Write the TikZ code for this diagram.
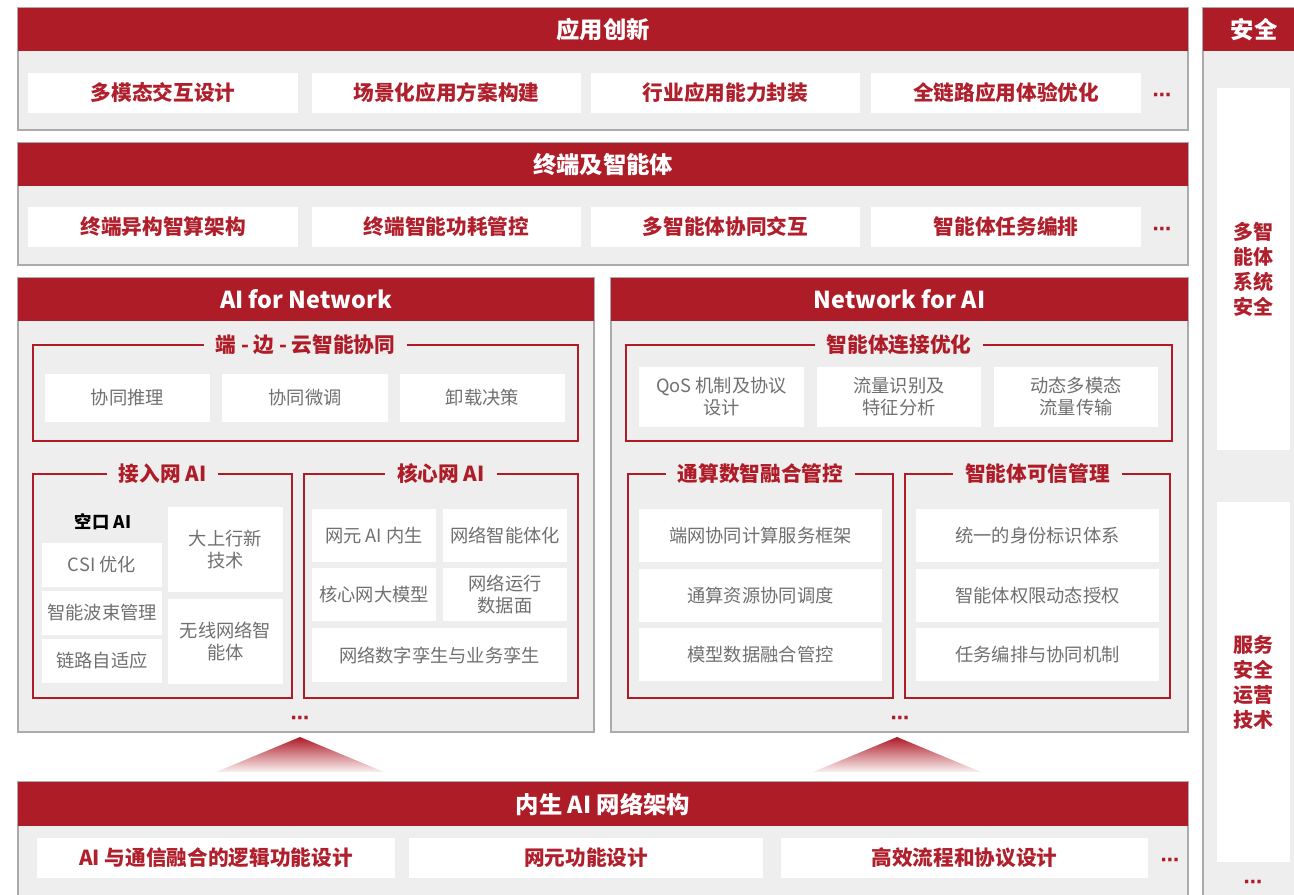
\documentclass[tikz,border=0pt]{standalone}
\usepackage{fontspec}
\setmainfont{Noto Sans CJK SC}
\newfontfamily\symfont{DejaVu Sans}
\definecolor{cred}{HTML}{AE1C28}
\definecolor{cbody}{HTML}{EEEEEE}
\definecolor{cborder}{HTML}{ABABAB}
\definecolor{ctext}{HTML}{707070}
\definecolor{citem}{HTML}{B0202C}
\tikzset{
  body/.style={draw=cborder, fill=cbody, line width=0.8pt},
  head/.style={fill=cred, text=white, font=\bfseries\fontsize{17.5}{21}\selectfont},
  itemR/.style={fill=white, text=citem, font=\bfseries\fontsize{15.5}{18}\selectfont},
  itemG/.style={fill=white, text=ctext, font=\fontsize{13.7}{16.5}\selectfont, align=center},
  grp/.style={draw=cred, line width=1pt},
  grptitle/.style={fill=cbody, text=cred, font=\bfseries\fontsize{15.5}{18}\selectfont, inner xsep=9pt, inner ysep=1pt},
  dots/.style={text=cred, font=\symfont\bfseries\fontsize{14}{14}\selectfont, inner sep=0pt, yshift=-3pt},
  sidetxt/.style={fill=white, text=citem, font=\bfseries\fontsize{15}{18.75}\selectfont, align=center},
  tri/.style={top color=cred, bottom color=cred!6},
}
\newcommand\bx[7]{\node[inner sep=0pt, outer sep=0pt, #6, minimum width={(#4-#2)*0.75pt}, minimum height={(#5-#3)*0.75pt}] (#1) at ({(#2+#4)/2},{(#3+#5)/2}) {#7};}
\begin{document}
\begin{tikzpicture}[x=0.75pt, y=-0.75pt]
\useasboundingbox (0,0) rectangle (1294,894);
% Section 1
\bx{s1}{18}{8}{1188}{130}{body}{}
\bx{s1h}{18}{8}{1188}{51}{head}{应用创新}
\bx{s1a}{28}{73}{298}{113}{itemR}{多模态交互设计}
\bx{s1b}{312}{73}{581}{113}{itemR}{场景化应用方案构建}
\bx{s1c}{591}{73}{860}{113}{itemR}{行业应用能力封装}
\bx{s1d}{871}{73}{1141}{113}{itemR}{全链路应用体验优化}
\node[dots] (s1e) at (1162,93) {⋯};
% Section 2
\bx{s2}{18}{143}{1188}{265}{body}{}
\bx{s2h}{18}{143}{1188}{186}{head}{终端及智能体}
\bx{s2a}{28}{207}{298}{247}{itemR}{终端异构智算架构}
\bx{s2b}{312}{207}{581}{247}{itemR}{终端智能功耗管控}
\bx{s2c}{591}{207}{860}{247}{itemR}{多智能体协同交互}
\bx{s2d}{871}{207}{1141}{247}{itemR}{智能体任务编排}
\node[dots] (s2e) at (1162,227) {⋯};
% AI for Network
\bx{an}{18}{278}{594}{732}{body}{}
\bx{anh}{18}{278}{594}{321}{head}{AI for Network}
\bx{g1}{33}{345}{578}{441}{grp}{}
\node[grptitle] (g1t) at (g1.north) {端 - 边 - 云智能协同};
\bx{g1a}{45}{374}{210}{422}{itemG}{协同推理}
\bx{g1b}{222}{374}{388}{422}{itemG}{协同微调}
\bx{g1c}{400}{374}{565}{422}{itemG}{卸载决策}
\bx{g2}{33}{474}{292}{698}{grp}{}
\node[grptitle] (g2t) at (g2.north) {接入网 AI};
\node[font=\bfseries\fontsize{13}{16}\selectfont, text=black] (kk) at (103,522) {空口 AI};
\bx{g2a}{42}{543}{162}{587}{itemG}{CSI 优化}
\bx{g2b}{42}{591}{162}{635}{itemG}{智能波束管理}
\bx{g2c}{42}{639}{162}{683}{itemG}{链路自适应}
\bx{g2d}{168}{507}{283}{592}{itemG}{大上行新\\技术}
\bx{g2e}{168}{599}{283}{684}{itemG}{无线网络智\\能体}
\bx{g3}{304}{474}{578}{698}{grp}{}
\node[grptitle] (g3t) at (g3.north) {核心网 AI};
\bx{g3a}{312}{509}{436}{562}{itemG}{网元 AI 内生}
\bx{g3b}{443}{509}{567}{562}{itemG}{网络智能体化}
\bx{g3c}{312}{568}{436}{621}{itemG}{核心网大模型}
\bx{g3d}{443}{568}{567}{621}{itemG}{网络运行\\数据面}
\bx{g3e}{312}{628}{567}{682}{itemG}{网络数字孪生与业务孪生}
\node[dots] (and) at (300,716) {⋯};
% Network for AI
\bx{na}{611}{278}{1188}{732}{body}{}
\bx{nah}{611}{278}{1188}{321}{head}{Network for AI}
\bx{g4}{626}{345}{1172}{441}{grp}{}
\node[grptitle] (g4t) at (g4.north) {智能体连接优化};
\bx{g4a}{639}{367}{804}{427}{itemG}{QoS 机制及协议\\设计}
\bx{g4b}{817}{367}{981}{427}{itemG}{流量识别及\\特征分析}
\bx{g4c}{994}{367}{1158}{427}{itemG}{动态多模态\\流量传输}
\bx{g5}{628}{474}{893}{698}{grp}{}
\node[grptitle] (g5t) at (g5.north) {通算数智融合管控};
\bx{g5a}{639}{509}{882}{562}{itemG}{端网协同计算服务框架}
\bx{g5b}{639}{569}{882}{622}{itemG}{通算资源协同调度}
\bx{g5c}{639}{628}{882}{681}{itemG}{模型数据融合管控}
\bx{g6}{905}{474}{1170}{698}{grp}{}
\node[grptitle] (g6t) at (g6.north) {智能体可信管理};
\bx{g6a}{916}{509}{1159}{562}{itemG}{统一的身份标识体系}
\bx{g6b}{916}{569}{1159}{622}{itemG}{智能体权限动态授权}
\bx{g6c}{916}{628}{1159}{681}{itemG}{任务编排与协同机制}
\node[dots] (nad) at (900,716) {⋯};
% triangles
\coordinate (t1a) at (300,737); \coordinate (t1b) at (216,772); \coordinate (t1c) at (384,772);
\coordinate (t2a) at (897,737); \coordinate (t2b) at (813,772); \coordinate (t2c) at (981,772);
\shade[tri] (t1a) -- (t1b) -- (t1c) -- cycle;
\shade[tri] (t2a) -- (t2b) -- (t2c) -- cycle;
% Bottom
\bx{bt}{18}{782}{1188}{900}{body}{}
\bx{bth}{18}{782}{1188}{826}{head}{内生 AI 网络架构}
\bx{bta}{37}{838}{395}{878}{itemR}{AI 与通信融合的逻辑功能设计}
\bx{btb}{409}{838}{763}{878}{itemR}{网元功能设计}
\bx{btc}{781}{838}{1148}{878}{itemR}{高效流程和协议设计}
\node[dots] (btd) at (1170,858) {⋯};
% Security column
\bx{sc}{1203}{8}{1305}{900}{body}{}
\bx{sch}{1203}{8}{1305}{51}{head}{安全}
\bx{sca}{1217}{88}{1290}{450}{sidetxt}{多智\\能体\\系统\\安全}
\bx{scb}{1217}{502}{1290}{862}{sidetxt}{服务\\安全\\运营\\技术}
\node[dots] (scd) at (1253,880) {⋯};
\end{tikzpicture}
\end{document}
